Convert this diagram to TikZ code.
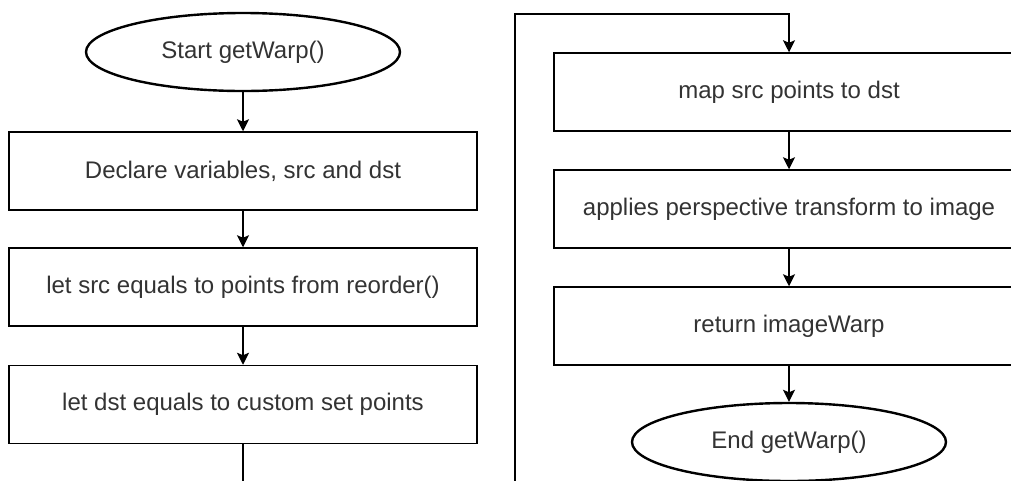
\documentclass[tikz,border=0pt]{standalone}
\usepackage{fontspec}
\setmainfont{Liberation Sans}
\usetikzlibrary{arrows.meta,shapes.geometric}
\definecolor{txt}{HTML}{333333}
\begin{document}
\begin{tikzpicture}[x=1pt,y=-1pt,
  stepbox/.style={draw=black,line width=1.5pt,fill=white,minimum width=468pt,minimum height=78pt,
    inner sep=0pt,text=txt,font=\fontsize{24}{28}\selectfont,anchor=center},
  terminal/.style={draw=black,ellipse,line width=2.4pt,fill=white,minimum width=314pt,minimum height=78pt,
    inner sep=0pt,text=txt,font=\fontsize{24}{28}\selectfont},
  flow/.style={line width=1.5pt,-{Stealth[length=12pt,width=12pt,inset=2.5pt]}}]
\useasboundingbox (0,0) rectangle (1011,480);
\clip (0,0) rectangle (1011,480);

% left column
\node[terminal] (start) at (243,52) {Start getWarp()};
\node[stepbox] (decl) at (243,171) {Declare variables, src and dst};
\node[stepbox] (srcpts) at (243,287) {let src equals to points from reorder()};
\node[stepbox] (dstpts) at (243,404.5) {let dst equals to custom set points};

% right column
\node[stepbox,minimum width=470pt] (map) at (789,92) {map src points to dst};
\node[stepbox,minimum width=470pt] (persp) at (789,209) {applies perspective transform to image};
\node[stepbox,minimum width=470pt] (ret) at (789,326) {return imageWarp};
\node[terminal] (finish) at (789,442) {End getWarp()};

% connectors
\draw[flow] (start) -- (decl);
\draw[flow] (decl) -- (srcpts);
\draw[flow] (srcpts) -- (dstpts);
\coordinate (down) at (243,495);
\coordinate (up) at (515,495);
\coordinate (top) at (515,14);
\draw[flow] (dstpts.south) -- (down) -- (up) -- (top) -| (map.north);
\draw[flow] (map) -- (persp);
\draw[flow] (persp) -- (ret);
\draw[flow] (ret) -- (finish);
\end{tikzpicture}
\end{document}
